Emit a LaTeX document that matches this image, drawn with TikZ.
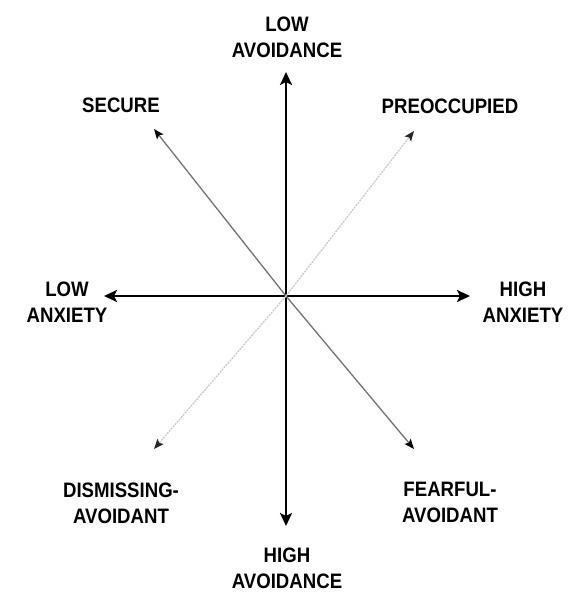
\documentclass[tikz,border=0pt]{standalone}
\usepackage{fontspec}
\setmainfont{Liberation Sans}
\usetikzlibrary{arrows.meta}
\newcommand{\vst}[1]{\scalebox{0.98}[1.1]{#1}}
\begin{document}
\begin{tikzpicture}[x=1pt,y=-1pt,
  lbl/.style={font=\fontsize{19}{26}\selectfont\bfseries, align=center, inner sep=0pt, text depth=0pt},
  axis/.style={line width=2.6pt, -{Stealth[length=13pt,width=12pt,inset=3pt]}},
  diagA/.style={draw=black!55, line width=1.3pt, -{Stealth[length=10pt,width=8pt,inset=2pt,color=black]}},
  diagB/.style={draw=black!22, line width=1.2pt, dash pattern=on 2pt off 1pt, -{Stealth[length=10pt,width=8pt,inset=2pt,color=black!85]}}]
\useasboundingbox (0,0) rectangle (579,594);
\fill[white] (0,0) rectangle (579,594);
\coordinate (c) at (286,296);
\coordinate (top) at (286,72);
\coordinate (bot) at (286,526);
\coordinate (lft) at (104,296);
\coordinate (rgt) at (470,296);
\coordinate (tl) at (154,129);
\coordinate (tr) at (414,131);
\coordinate (bl) at (154,449);
\coordinate (br) at (414,449);
\draw[axis] (c) -- (top);
\draw[axis] (c) -- (bot);
\draw[axis] (c) -- (lft);
\draw[axis] (c) -- (rgt);
\draw[diagA] (c) -- (tl);
\draw[diagA] (c) -- (br);
\draw[diagB] (c) -- (tr);
\draw[diagB] (c) -- (bl);
\node[lbl] (lowav) at (287,37) {\vst{LOW}\\\vst{AVOIDANCE}};
\node[lbl] (highav) at (287,568) {\vst{HIGH}\\\vst{AVOIDANCE}};
\node[lbl] (secure) at (121,105.5) {\vst{SECURE}};
\node[lbl] (preocc) at (450,106.5) {\vst{PREOCCUPIED}};
\node[lbl] (lowanx) at (67,302) {\vst{LOW}\\\vst{ANXIETY}};
\node[lbl] (highanx) at (523,302) {\vst{HIGH}\\\vst{ANXIETY}};
\node[lbl] (dism) at (121,503) {\vst{DISMISSING-}\\\vst{AVOIDANT}};
\node[lbl] (fear) at (450,502) {\vst{FEARFUL-}\\\vst{AVOIDANT}};
\end{tikzpicture}
\end{document}
